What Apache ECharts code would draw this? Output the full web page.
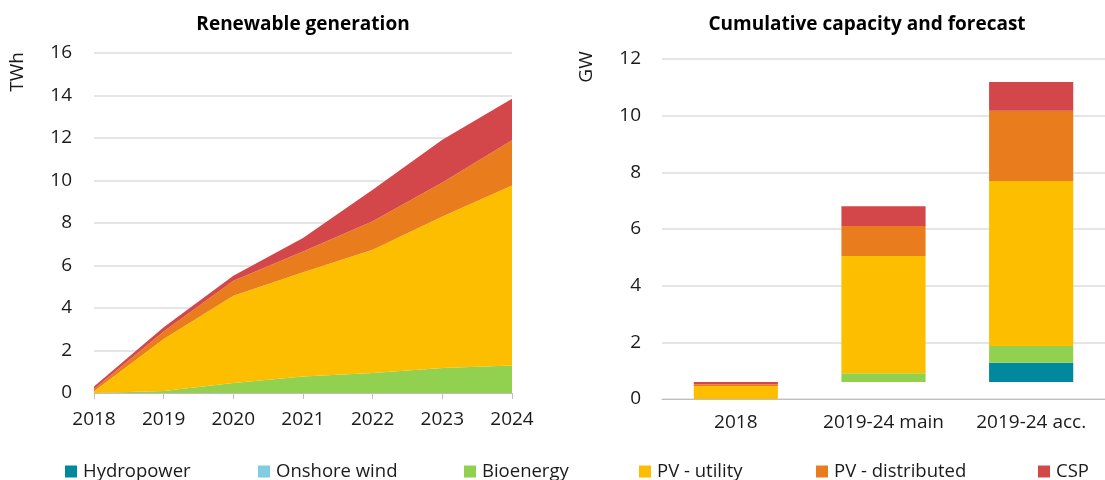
<!DOCTYPE html>
<html>
<head>
<meta charset="utf-8">
<script src="https://cdn.jsdelivr.net/npm/echarts@6/dist/echarts.min.js"></script>
<style>
	html, body {
		margin: 0;
		padding: 0;
		background: #FFFFFF;
	}

	#chart {
		width: 1105px;
		height: 480px;
	}
</style>
</head>
<body>
<div id="chart"></div>
<script>
	// left: renewable generation (TWh)
	var years = ['2018', '2019', '2020', '2021', '2022', '2023', '2024'];
	var genHydro = [0, 0, 0, 0, 0, 0, 0];
	var genWind = [0, 0, 0, 0, 0, 0, 0];
	var genBio = [0, 0.1, 0.47, 0.78, 0.94, 1.18, 1.3];
	var genUtility = [0.08, 2.44, 4.11, 4.9, 5.8, 7.13, 8.46];
	var genDistributed = [0.11, 0.36, 0.7, 0.98, 1.34, 1.6, 2.13];
	var genCsp = [0.12, 0.19, 0.24, 0.63, 1.49, 2.01, 1.96];

	// right: cumulative capacity and forecast (GW)
	var capCats = ['2018', '2019-24 main', '2019-24 acc.'];
	var capBase = [0, 0.6, 0.6];
	var capHydro = [0, 0, 0.68];
	var capWind = [0, 0, 0];
	var capBio = [0, 0.31, 0.59];
	var capUtility = [0.46, 4.14, 5.82];
	var capDistributed = [0.06, 1.06, 2.48];
	var capCsp = [0.08, 0.69, 1.02];

	var names = ['Hydropower', 'Onshore wind', 'Bioenergy', 'PV - utility', 'PV - distributed', 'CSP'];
	var colors = ['#00899D', '#80CDE1', '#92D050', '#FDBE00', '#E97C1C', '#D3464A'];
	var legendX = [60, 253, 459, 634, 811, 1033];

	var font = 'Open Sans';
	var textColor = '#1A1A1A';

	var genData = [genHydro, genWind, genBio, genUtility, genDistributed, genCsp];
	var capData = [capHydro, capWind, capBio, capUtility, capDistributed, capCsp];

	var series = [];
	for (var i = 0; i < names.length; i++) {
		series.push({
			name: names[i],
			type: 'line',
			stack: 'gen',
			xAxisIndex: 0,
			yAxisIndex: 0,
			symbol: 'none',
			lineStyle: { width: 0 },
			areaStyle: { color: colors[i], opacity: 1 },
			itemStyle: { color: colors[i] },
			data: genData[i]
		});
	}
	series.push({
		name: 'base',
		type: 'bar',
		stack: 'cap',
		xAxisIndex: 1,
		yAxisIndex: 1,
		barWidth: '57%',
		itemStyle: { color: 'transparent' },
		data: capBase
	});
	for (var j = 0; j < names.length; j++) {
		series.push({
			name: names[j],
			type: 'bar',
			stack: 'cap',
			xAxisIndex: 1,
			yAxisIndex: 1,
			barWidth: '57%',
			itemStyle: { color: colors[j] },
			data: capData[j]
		});
	}

	var legends = names.map(function (n, k) {
		return {
			data: [n],
			left: legendX[k],
			top: 457,
			itemWidth: 12,
			itemHeight: 12,
			itemGap: 0,
			icon: 'rect',
			selectedMode: false,
			textStyle: { fontFamily: font, fontSize: 18.5, color: textColor, padding: [0, 0, 0, 1] }
		};
	});

	var axisLabelStyle = { fontFamily: font, fontSize: 19, color: textColor };

	var myChart = echarts.init(document.getElementById('chart'));
	var option = {
		animation: false,
		textStyle: { fontFamily: font },
		legend: legends,
		grid: [
			{ left: 94, right: 593, top: 53, bottom: 87 },
			{ left: 662, right: -10, top: 59, bottom: 81 }
		],
		xAxis: [{
			gridIndex: 0,
			type: 'category',
			boundaryGap: false,
			data: years,
			axisLine: { lineStyle: { color: '#BFBFBF', width: 1 } },
			axisTick: { length: 6, lineStyle: { color: '#BFBFBF' } },
			axisLabel: Object.assign({ margin: 17, interval: 0 }, axisLabelStyle)
		}, {
			gridIndex: 1,
			type: 'category',
			data: capCats,
			axisLine: { lineStyle: { color: '#BFBFBF', width: 1 } },
			axisTick: { length: 6, lineStyle: { color: '#BFBFBF' } },
			axisLabel: Object.assign({ margin: 14, interval: 0 }, axisLabelStyle)
		}],
		yAxis: [{
			gridIndex: 0,
			type: 'value',
			min: 0,
			max: 16,
			interval: 2,
			axisLine: { show: false },
			axisTick: { show: false },
			splitLine: { lineStyle: { color: '#DCDCDC', width: 1.5 } },
			axisLabel: Object.assign({ margin: 22 }, axisLabelStyle)
		}, {
			gridIndex: 1,
			type: 'value',
			min: 0,
			max: 12,
			interval: 2,
			axisLine: { show: false },
			axisTick: { show: false },
			splitLine: { lineStyle: { color: '#DCDCDC', width: 1.5 } },
			axisLabel: Object.assign({ margin: 21 }, axisLabelStyle)
		}],
		graphic: [{
			type: 'text',
			x: 303,
			y: 25,
			style: { text: 'Renewable generation', fontFamily: font, fontSize: 19, fontWeight: 'bold', fill: '#000', align: 'center', verticalAlign: 'middle' }
		}, {
			type: 'text',
			x: 867,
			y: 25,
			style: { text: 'Cumulative capacity and forecast', fontFamily: font, fontSize: 19, fontWeight: 'bold', fill: '#000', align: 'center', verticalAlign: 'middle' }
		}, {
			type: 'text',
			x: 18,
			y: 72,
			rotation: Math.PI / 2,
			style: { text: 'TWh', fontFamily: font, fontSize: 19, fill: textColor, align: 'center', verticalAlign: 'middle' }
		}, {
			type: 'text',
			x: 587,
			y: 67,
			rotation: Math.PI / 2,
			style: { text: 'GW', fontFamily: font, fontSize: 19, fill: textColor, align: 'center', verticalAlign: 'middle' }
		}],
		series: series
	};
	myChart && myChart.setOption(option);
</script>
</body>
</html>
